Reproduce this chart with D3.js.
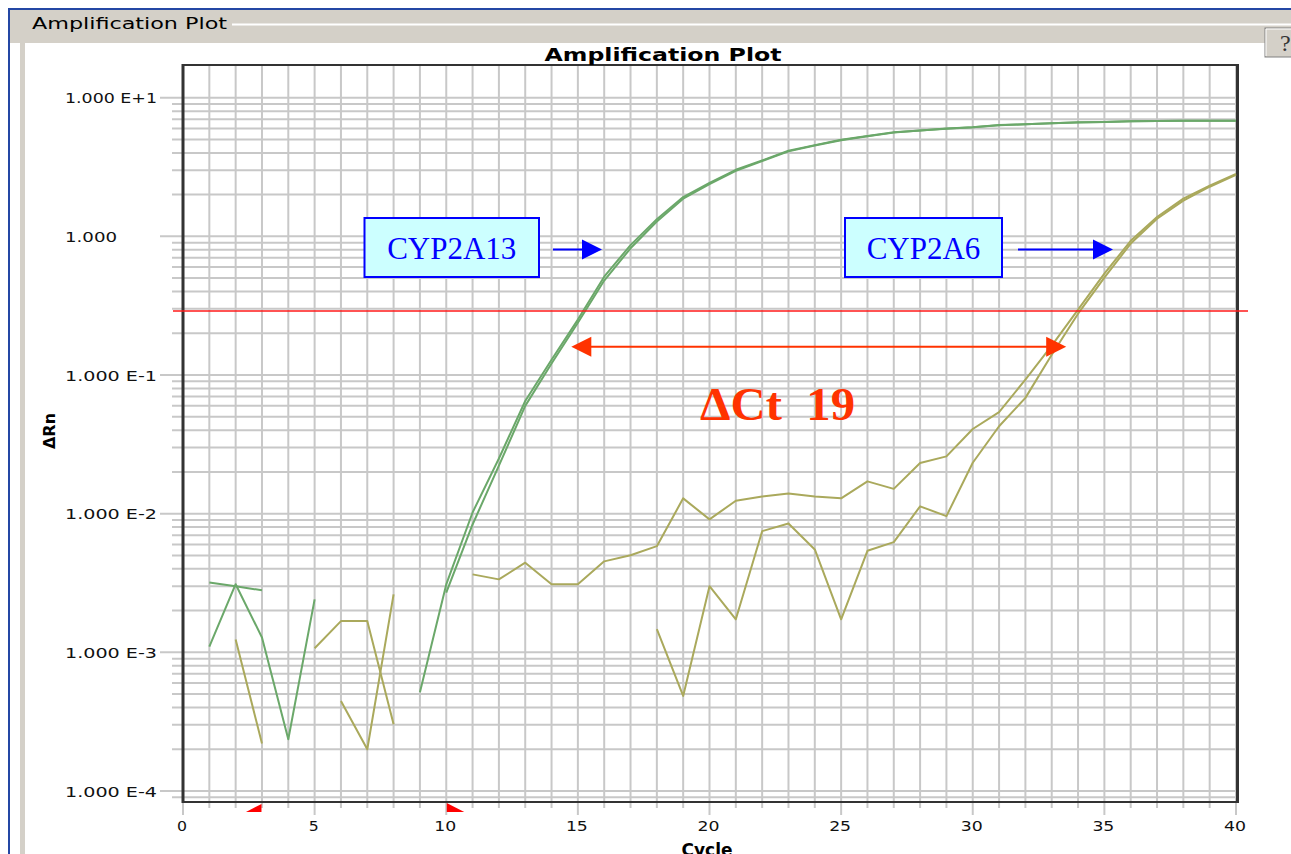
<!doctype html>
<html>
<head>
<meta charset="utf-8">
<title>Amplification Plot</title>
<script src="https://cdn.jsdelivr.net/npm/d3@7"></script>
<style>
  body { margin:0; background:#fff; overflow:hidden; }
  svg { display:block; }
</style>
</head>
<body>
<script>
var W = 1291, H = 854;

// delta Rn per cycle, null = negative reading (not drawn on the log axis)
var cycles = d3.range(1, 41);
var cyp2a13A = [1.10e-3, 3.10e-3, 1.28e-3, 2.36e-4, 2.41e-3, null, null, null, 5.15e-4, 3.09e-3,
                1.02e-2, 2.50e-2, 6.50e-2, 0.129, 0.251, 0.512, 0.865, 1.33, 1.92, 2.43,
                3.02, 3.53, 4.14, 4.55, 4.97, 5.29, 5.63, 5.80, 5.99, 6.13,
                6.35, 6.44, 6.54, 6.64, 6.69, 6.77, 6.80, 6.81, 6.82, 6.83];
var cyp2a13B = [3.19e-3, 3.00e-3, 2.80e-3, null, null, null, null, null, null, 2.70e-3,
                8.36e-3, 2.22e-2, 5.99e-2, 0.121, 0.238, 0.48, 0.82, 1.28, 1.87, 2.38,
                2.97, 3.49, 4.10, 4.52, 4.94, 5.27, 5.60, 5.79, 5.98, 6.12,
                6.33, 6.43, 6.53, 6.63, 6.69, 6.76, 6.79, 6.81, 6.82, 6.83];
var cyp2a6A = [null, null, null, null, 1.07e-3, 1.68e-3, 1.68e-3, 3.03e-4, null, null,
               3.65e-3, 3.36e-3, 4.43e-3, 3.10e-3, 3.10e-3, 4.53e-3, 5.02e-3, 5.83e-3, 1.29e-2, 9.10e-3,
               1.24e-2, 1.33e-2, 1.40e-2, 1.33e-2, 1.29e-2, 1.71e-2, 1.51e-2, 2.32e-2, 2.59e-2, 4.08e-2,
               5.40e-2, 9.27e-2, 0.163, 0.296, 0.538, 0.929, 1.38, 1.87, 2.32, 2.82];
var cyp2a6B = [null, 1.24e-3, 2.20e-4, null, null, 4.46e-4, 2.00e-4, 2.62e-3, null, null,
               null, null, null, null, null, null, null, 1.47e-3, 4.85e-4, 3.00e-3,
               1.73e-3, 7.48e-3, 8.50e-3, 5.52e-3, 1.73e-3, 5.40e-3, 6.24e-3, 1.13e-2, 9.60e-3, 2.33e-2,
               4.27e-2, 6.84e-2, 0.140, 0.277, 0.504, 0.887, 1.34, 1.81, 2.28, 2.78];

var threshold = 0.29;
var ctArrow = [14.75, 33.55];
var ctArrowLevel = 0.16;
var baselineRange = [3, 10];
var xTicks = d3.range(0, 41, 5);
var yTicks = [10, 1, 0.1, 0.01, 0.001, 0.0001];
var yTickLabels = ["1.000 E+1", "1.000", "1.000 E-1", "1.000 E-2", "1.000 E-3", "1.000 E-4"];

var green = "#6ba86a", olive = "#aaa95c";

var x = d3.scaleLinear().domain([0, 40]).range([183, 1236]);
var y = d3.scaleLog().domain([1e-4, 10]).range([791, 97.7]);
var top_ = 65, bottom = 802;

var svg = d3.select("body").append("svg").attr("width", W).attr("height", H);

// window frame
svg.append("rect").attr("x", 0).attr("y", 0).attr("width", W).attr("height", H).attr("fill", "#fff");
svg.append("rect").attr("x", 10).attr("y", 10).attr("width", W - 10).attr("height", 33).attr("fill", "#d4d0c8");
svg.append("rect").attr("x", 20).attr("y", 10).attr("width", 5).attr("height", H).attr("fill", "#d4d0c8");
svg.append("line").attr("x1", 232).attr("x2", W).attr("y1", 24.5).attr("y2", 24.5).attr("stroke", "#fff").attr("stroke-width", 2);
svg.append("line").attr("x1", 8).attr("x2", W).attr("y1", 9).attr("y2", 9).attr("stroke", "#2447a4").attr("stroke-width", 2);
svg.append("line").attr("x1", 9).attr("x2", 9).attr("y1", 8).attr("y2", H).attr("stroke", "#2447a4").attr("stroke-width", 2);
svg.append("text").attr("x", 32).attr("y", 29).text("Amplification Plot")
   .attr("font-family", "DejaVu Sans").attr("font-size", "16px").attr("fill", "#000")
   .attr("textLength", 195).attr("lengthAdjust", "spacingAndGlyphs");

// help button
svg.append("rect").attr("x", 1265).attr("y", 28).attr("width", 30).attr("height", 29)
   .attr("fill", "#d4d0c8").attr("stroke", "#808080");
svg.append("path").attr("d", "M1266,56 L1266,29 L1295,29").attr("fill", "none").attr("stroke", "#fff");
svg.append("text").attr("x", 1280).attr("y", 51).text("?")
   .attr("font-family", "Liberation Serif").attr("font-size", "24px").attr("fill", "#333");

// grid: log minor lines
var hLines = [];
for (var e = -5; e <= 1; e++) {
  for (var k = 1; k <= 9; k++) {
    var v = k * Math.pow(10, e);
    if (y(v) >= top_ && y(v) <= bottom) hLines.push(v);
  }
}
svg.append("g").selectAll("line").data(hLines).enter().append("line")
   .attr("x1", function(d) { return Math.abs(Math.log10(d) - Math.round(Math.log10(d))) < 1e-9 ? 160 : 172; })
   .attr("x2", x(40))
   .attr("y1", function(d) { return y(d); })
   .attr("y2", function(d) { return y(d); })
   .attr("stroke", "#c8c8c8").attr("stroke-width", 2);

svg.append("g").selectAll("line").data(d3.range(0, 41)).enter().append("line")
   .attr("x1", function(d) { return x(d); })
   .attr("x2", function(d) { return x(d); })
   .attr("y1", top_)
   .attr("y2", function(d) { return d % 5 == 0 ? 815 : 808; })
   .attr("stroke", "#c8c8c8").attr("stroke-width", 2);

// axis frame
svg.append("line").attr("x1", 183).attr("x2", 1237).attr("y1", top_).attr("y2", top_).attr("stroke", "#333").attr("stroke-width", 2);
svg.append("line").attr("x1", 183).attr("x2", 1237).attr("y1", bottom).attr("y2", bottom).attr("stroke", "#333").attr("stroke-width", 2);
svg.append("line").attr("x1", 183).attr("x2", 183).attr("y1", top_ - 1).attr("y2", bottom + 1).attr("stroke", "#333").attr("stroke-width", 3);
svg.append("line").attr("x1", 1237.5).attr("x2", 1237.5).attr("y1", top_ - 1).attr("y2", bottom + 1).attr("stroke", "#333").attr("stroke-width", 3);

// tick labels
svg.append("g").selectAll("text").data(yTicks).enter().append("text")
   .attr("x", 65).attr("y", function(d) { return y(d) + 5.5; })
   .text(function(d, i) { return yTickLabels[i]; })
   .attr("font-family", "DejaVu Sans").attr("font-size", "14px").attr("fill", "#111")
   .attr("textLength", function(d, i) { return yTickLabels[i].length > 5 ? 92 : 52; })
   .attr("lengthAdjust", "spacingAndGlyphs");

svg.append("g").selectAll("text").data(xTicks).enter().append("text")
   .attr("x", function(d) { return x(d) - 1; }).attr("y", 831)
   .attr("text-anchor", "middle")
   .text(function(d) { return d; })
   .attr("font-family", "DejaVu Sans").attr("font-size", "14px").attr("fill", "#111")
   .attr("textLength", function(d) { return d < 10 ? 10 : 22; })
   .attr("lengthAdjust", "spacingAndGlyphs");

// titles
svg.append("text").attr("x", 663).attr("y", 61).attr("text-anchor", "middle").text("Amplification Plot")
   .attr("font-family", "DejaVu Sans").attr("font-weight", "bold").attr("font-size", "17px")
   .attr("textLength", 237).attr("lengthAdjust", "spacingAndGlyphs");
svg.append("text").attr("x", 707).attr("y", 856).attr("text-anchor", "middle").text("Cycle")
   .attr("font-family", "DejaVu Sans").attr("font-weight", "bold").attr("font-size", "17px");
svg.append("text").attr("transform", "translate(55,431) rotate(-90)").attr("text-anchor", "middle").text("ΔRn")
   .attr("font-family", "DejaVu Sans").attr("font-weight", "bold").attr("font-size", "16px")
   .attr("textLength", 36).attr("lengthAdjust", "spacingAndGlyphs");

// baseline markers
svg.append("path")
   .attr("d", "M" + (x(baselineRange[0]) - 0.5) + ",804 L" + (x(baselineRange[0]) - 0.5) + ",812 L" + (x(baselineRange[0]) - 16) + ",812 Z")
   .attr("fill", "#ff0000");
svg.append("path")
   .attr("d", "M" + (x(baselineRange[1]) + 0.5) + ",803 L" + (x(baselineRange[1]) + 0.5) + ",812 L" + (x(baselineRange[1]) + 18) + ",812 Z")
   .attr("fill", "#ff0000");

// amplification curves
var line = d3.line()
   .defined(function(d) { return d.v != null; })
   .x(function(d) { return x(d.c); })
   .y(function(d) { return y(d.v); });

var series = [
  { values: cyp2a6B, color: olive },
  { values: cyp2a6A, color: olive },
  { values: cyp2a13A, color: green },
  { values: cyp2a13B, color: green }
];
svg.append("g").selectAll("path").data(series).enter().append("path")
   .attr("d", function(s) { return line(cycles.map(function(c, i) { return { c: c, v: s.values[i] }; })); })
   .attr("fill", "none")
   .attr("stroke", function(s) { return s.color; })
   .attr("stroke-width", 2)
   .attr("stroke-linejoin", "round");

// threshold
svg.append("line").attr("x1", 173).attr("x2", 1248)
   .attr("y1", y(threshold)).attr("y2", y(threshold))
   .attr("stroke", "#ff1a1a").attr("stroke-width", 1.5);

// delta Ct arrow
var ay = y(ctArrowLevel), ax0 = x(ctArrow[0]), ax1 = x(ctArrow[1]);
var orange = "#ff3300";
svg.append("line").attr("x1", ax0 + 15).attr("x2", ax1 - 15).attr("y1", ay).attr("y2", ay)
   .attr("stroke", orange).attr("stroke-width", 2);
svg.append("path").attr("d", "M" + ax0 + "," + ay + " L" + (ax0 + 20) + "," + (ay - 10) + " L" + (ax0 + 20) + "," + (ay + 10) + " Z").attr("fill", orange);
svg.append("path").attr("d", "M" + ax1 + "," + ay + " L" + (ax1 - 20) + "," + (ay - 10) + " L" + (ax1 - 20) + "," + (ay + 10) + " Z").attr("fill", orange);
svg.append("text").attr("x", 700).attr("y", 420).text("ΔCt  19")
   .attr("xml:space", "preserve")
   .attr("font-family", "Liberation Serif").attr("font-weight", "bold").attr("font-size", "46px")
   .attr("fill", orange).attr("textLength", 155).attr("lengthAdjust", "spacingAndGlyphs");

// gene labels
var labels = [
  { text: "CYP2A13", x0: 364.5, x1: 539, a0: 553, a1: 602 },
  { text: "CYP2A6", x0: 845, x1: 1002, a0: 1018, a1: 1113 }
];
var lg = svg.append("g").selectAll("g").data(labels).enter().append("g");
lg.append("rect")
   .attr("x", function(d) { return d.x0; }).attr("y", 218)
   .attr("width", function(d) { return d.x1 - d.x0; }).attr("height", 59)
   .attr("fill", "#ccffff").attr("stroke", "#0000ff").attr("stroke-width", 2);
lg.append("text")
   .attr("x", function(d) { return (d.x0 + d.x1) / 2; }).attr("y", 259)
   .attr("text-anchor", "middle").text(function(d) { return d.text; })
   .attr("font-family", "Liberation Serif").attr("font-size", "31px").attr("fill", "#0000ff");
lg.append("line")
   .attr("x1", function(d) { return d.a0; }).attr("x2", function(d) { return d.a1 - 18; })
   .attr("y1", 249.5).attr("y2", 249.5)
   .attr("stroke", "#0000ff").attr("stroke-width", 2);
lg.append("path")
   .attr("d", function(d) { return "M" + d.a1 + ",249.5 L" + (d.a1 - 20) + ",239.5 L" + (d.a1 - 20) + ",259.5 Z"; })
   .attr("fill", "#0000ff");
</script>
</body>
</html>
